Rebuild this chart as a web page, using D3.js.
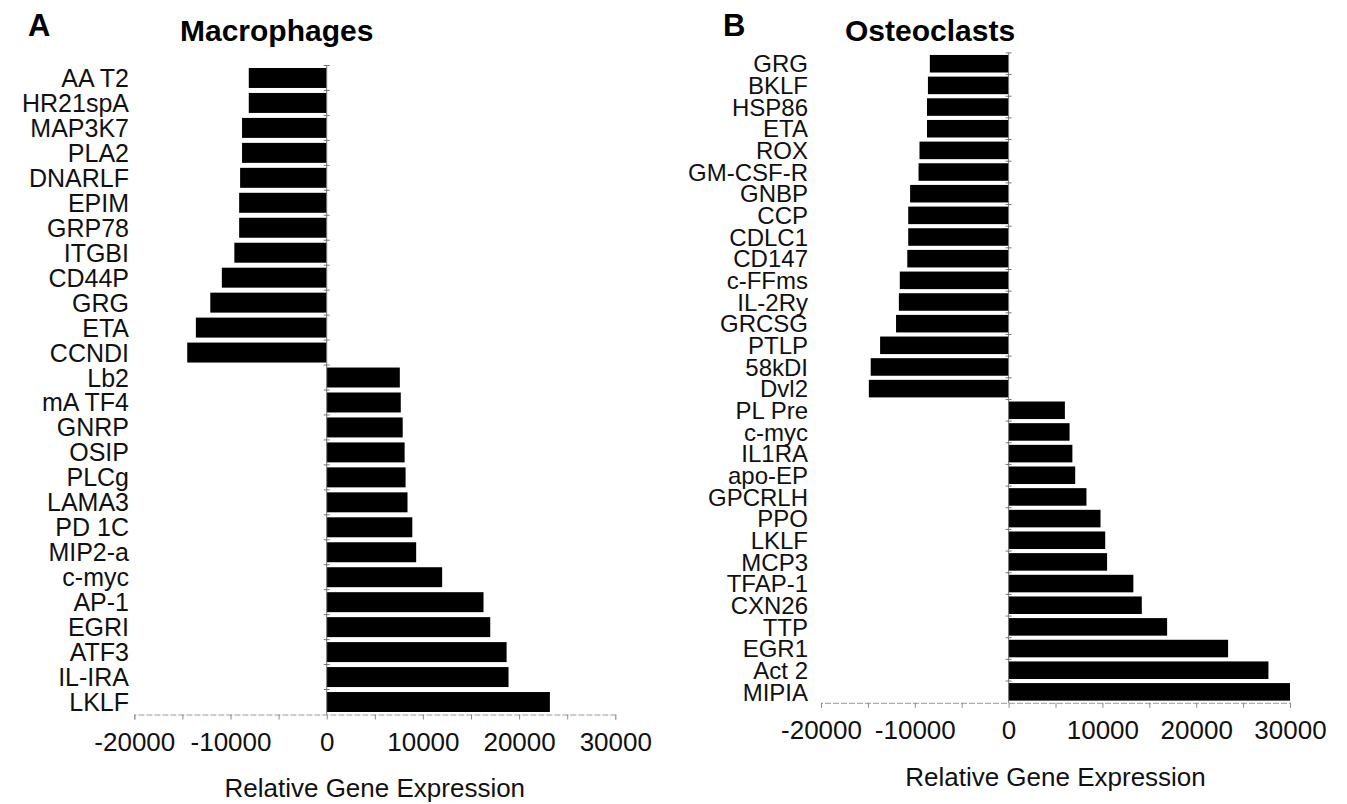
<!DOCTYPE html>
<html>
<head>
<meta charset="utf-8">
<script src="https://cdn.jsdelivr.net/npm/d3@7"></script>
<style>
  body { margin: 0; background: #fff; }
  svg { font-family: "Liberation Sans", Arial, sans-serif; }
</style>
</head>
<body>
<div id="chart"></div>
<script>
// Panel A - macrophages
const macroGenes = ['AA T2', 'HR21spA', 'MAP3K7', 'PLA2', 'DNARLF', 'EPIM', 'GRP78', 'ITGBI', 'CD44P', 'GRG', 'ETA', 'CCNDI',
  'Lb2', 'mA TF4', 'GNRP', 'OSIP', 'PLCg', 'LAMA3', 'PD 1C', 'MIP2-a', 'c-myc', 'AP-1', 'EGRI', 'ATF3', 'IL-IRA', 'LKLF']
const macroValues = [-8100, -8100, -8800, -8800, -9000, -9100, -9100, -9600, -10900, -12100, -13600, -14500,
  7600, 7700, 7900, 8100, 8200, 8400, 8900, 9300, 12000, 16300, 17000, 18700, 18900, 23200]

// Panel B - osteoclasts
const osteoGenes = ['GRG', 'BKLF', 'HSP86', 'ETA', 'ROX', 'GM-CSF-R', 'GNBP', 'CCP', 'CDLC1', 'CD147', 'c-FFms', 'IL-2Ry',
  'GRCSG', 'PTLP', '58kDI', 'Dvl2', 'PL Pre', 'c-myc', 'IL1RA', 'apo-EP', 'GPCRLH', 'PPO', 'LKLF', 'MCP3', 'TFAP-1',
  'CXN26', 'TTP', 'EGR1', 'Act 2', 'MIPIA']
const osteoValues = [-8400, -8600, -8700, -8700, -9500, -9600, -10500, -10700, -10700, -10800, -11600, -11700,
  -12000, -13700, -14700, -14900, 6000, 6500, 6800, 7100, 8300, 9800, 10300, 10500, 13300, 14200, 16900, 23400,
  27700, 30000]

const xDomain = [-20000, 30000]
const xTicks = d3.range(-20000, 30001, 5000)
const axisTitle = 'Relative Gene Expression'

const svg = d3.select('#chart').append('svg')
  .attr('width', 1347)
  .attr('height', 804)

function drawPanel(p) {
  const g = svg.append('g')
  const data = p.genes.map((gene, i) => ({ gene: gene, value: p.values[i] }))

  const x = d3.scaleLinear().domain(xDomain).range(p.xRange)
  const y = d3.scaleBand().domain(p.genes).range(p.yRange)
    .paddingInner(p.padding).paddingOuter(0.1)

  // bars
  g.selectAll('rect.bar')
    .data(data)
    .join('rect')
    .attr('class', 'bar')
    .attr('x', d => x(Math.min(0, d.value)))
    .attr('y', d => y(d.gene))
    .attr('width', d => Math.abs(x(d.value) - x(0)))
    .attr('height', y.bandwidth())
    .style('fill', '#000')

  // zero line with small ticks between bars
  g.append('line')
    .attr('x1', x(0)).attr('x2', x(0))
    .attr('y1', p.yRange[0]).attr('y2', p.yRange[1])
    .style('stroke', '#777').style('stroke-width', 1)

  const gap = y.step() * y.paddingInner() / 2
  g.selectAll('line.ytick')
    .data(data)
    .join('line')
    .attr('class', 'ytick')
    .attr('x1', x(0) - 3).attr('x2', x(0) + 3)
    .attr('y1', d => y(d.gene) - gap)
    .attr('y2', d => y(d.gene) - gap)
    .style('stroke', '#777')

  // gene labels
  g.selectAll('text.gene')
    .data(data)
    .join('text')
    .attr('class', 'gene')
    .attr('x', p.labelX)
    .attr('y', d => y(d.gene) + y.bandwidth() / 2)
    .attr('dy', '0.36em')
    .attr('text-anchor', 'end')
    .style('font-size', p.labelSize)
    .style('fill', '#111')
    .text(d => d.gene)

  // x axis
  const axis = d3.axisBottom(x)
    .tickValues(xTicks)
    .tickSize(5)
    .tickPadding(13)
    .tickFormat(d => d % 10000 === 0 ? d : '')

  const ax = g.append('g')
    .attr('transform', `translate(0,${p.yRange[1]})`)
    .call(axis)
  ax.select('.domain').style('stroke', '#999').style('stroke-dasharray', '6,2')
  ax.selectAll('.tick line').style('stroke', '#888')
  ax.selectAll('.tick text')
    .style('font-size', '26px')
    .style('font-family', '"Liberation Sans", Arial, sans-serif')
    .style('fill', '#111')

  g.append('text')
    .attr('x', (p.xRange[0] + p.xRange[1]) / 2)
    .attr('y', p.titleY)
    .attr('text-anchor', 'middle')
    .style('font-size', '26px')
    .style('fill', '#111')
    .text(axisTitle)

  // panel letter and heading
  g.append('text')
    .attr('x', p.letterX)
    .attr('y', 36)
    .style('font-size', '31px')
    .style('font-weight', 'bold')
    .text(p.letter)

  g.append('text')
    .attr('x', p.headX)
    .attr('y', 41)
    .style('font-size', '30px')
    .style('font-weight', 'bold')
    .text(p.heading)
}

drawPanel({
  genes: macroGenes, values: macroValues,
  xRange: [134.3, 615.3], yRange: [65.5, 714.5], padding: 0.2,
  labelX: 129, labelSize: '25px', titleY: 797,
  letter: 'A', letterX: 28, heading: 'Macrophages', headX: 180
})

drawPanel({
  genes: osteoGenes, values: osteoValues,
  xRange: [821, 1290], yRange: [52.8, 702.8], padding: 0.19,
  labelX: 808, labelSize: '24px', titleY: 786,
  letter: 'B', letterX: 723, heading: 'Osteoclasts', headX: 845
})
</script>
</body>
</html>
